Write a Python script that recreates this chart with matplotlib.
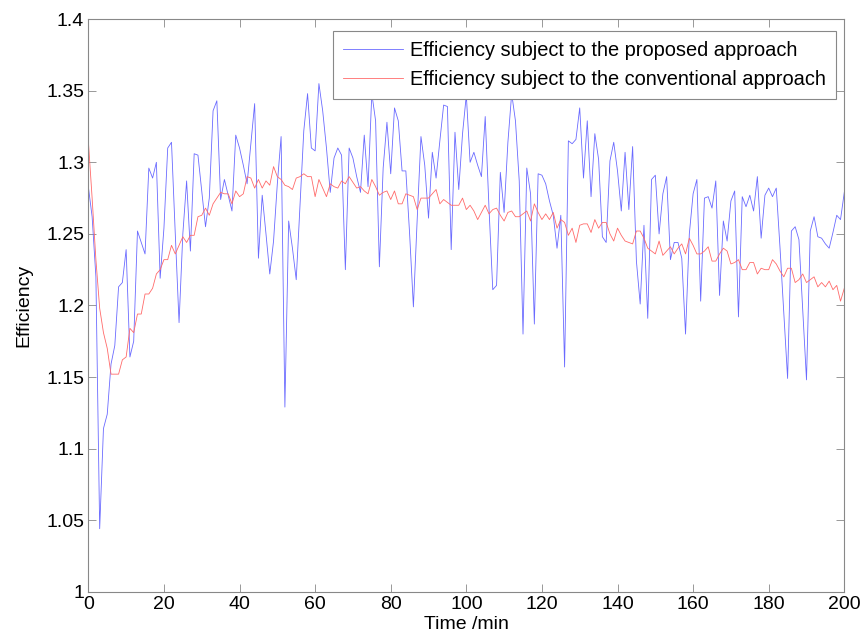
import numpy as np
import matplotlib
matplotlib.use("Agg")
import matplotlib.pyplot as plt

# efficiency, one point per minute (0..200)
t = np.arange(0, 201)

eff_proposed = [
    1.283, 1.262, 1.220, 1.044, 1.114, 1.124, 1.159, 1.172, 1.213, 1.216,
    1.239, 1.164, 1.175, 1.252, 1.244, 1.236, 1.296, 1.289, 1.300, 1.219,
    1.254, 1.310, 1.314, 1.250, 1.188, 1.250, 1.287, 1.238, 1.306, 1.305,
    1.280, 1.255, 1.275, 1.336, 1.343, 1.274, 1.288, 1.277, 1.266, 1.319,
    1.310, 1.298, 1.285, 1.313, 1.341, 1.233, 1.277, 1.250, 1.222, 1.245,
    1.285, 1.318, 1.129, 1.259, 1.240, 1.218, 1.270, 1.322, 1.348, 1.310,
    1.308, 1.355, 1.336, 1.310, 1.279, 1.303, 1.310, 1.305, 1.225, 1.310,
    1.303, 1.290, 1.279, 1.319, 1.283, 1.348, 1.329, 1.227, 1.296, 1.328,
    1.292, 1.338, 1.329, 1.294, 1.294, 1.250, 1.199, 1.260, 1.318, 1.298,
    1.261, 1.307, 1.289, 1.315, 1.340, 1.339, 1.239, 1.321, 1.281, 1.320,
    1.347, 1.300, 1.307, 1.298, 1.290, 1.332, 1.268, 1.211, 1.214, 1.293,
    1.265, 1.314, 1.348, 1.329, 1.287, 1.180, 1.296, 1.278, 1.187, 1.292,
    1.291, 1.285, 1.273, 1.263, 1.240, 1.263, 1.157, 1.315, 1.313, 1.316,
    1.338, 1.289, 1.329, 1.276, 1.320, 1.302, 1.248, 1.244, 1.301, 1.314,
    1.294, 1.266, 1.307, 1.267, 1.311, 1.231, 1.201, 1.256, 1.191, 1.288,
    1.291, 1.250, 1.278, 1.290, 1.232, 1.244, 1.244, 1.233, 1.180, 1.250,
    1.278, 1.288, 1.203, 1.275, 1.276, 1.268, 1.287, 1.207, 1.259, 1.245,
    1.273, 1.280, 1.192, 1.276, 1.269, 1.277, 1.266, 1.290, 1.247, 1.277,
    1.282, 1.276, 1.282, 1.240, 1.195, 1.149, 1.252, 1.255, 1.246, 1.197,
    1.148, 1.252, 1.262, 1.248, 1.247, 1.243, 1.240, 1.251, 1.263, 1.260,
    1.279,
]

eff_conventional = [
    1.315, 1.275, 1.232, 1.198, 1.181, 1.170, 1.152, 1.152, 1.152, 1.162,
    1.164, 1.184, 1.181, 1.194, 1.194, 1.208, 1.208, 1.212, 1.222, 1.225,
    1.232, 1.232, 1.242, 1.236, 1.242, 1.248, 1.244, 1.249, 1.249, 1.262,
    1.263, 1.268, 1.263, 1.271, 1.275, 1.279, 1.278, 1.278, 1.271, 1.280,
    1.276, 1.278, 1.290, 1.289, 1.282, 1.288, 1.282, 1.287, 1.284, 1.297,
    1.290, 1.288, 1.284, 1.283, 1.281, 1.289, 1.290, 1.292, 1.290, 1.290,
    1.276, 1.288, 1.282, 1.276, 1.285, 1.283, 1.282, 1.287, 1.285, 1.290,
    1.286, 1.282, 1.283, 1.280, 1.278, 1.288, 1.283, 1.277, 1.279, 1.280,
    1.274, 1.280, 1.271, 1.271, 1.278, 1.277, 1.276, 1.267, 1.275, 1.275,
    1.275, 1.278, 1.281, 1.271, 1.274, 1.272, 1.270, 1.270, 1.270, 1.275,
    1.267, 1.270, 1.266, 1.260, 1.265, 1.270, 1.264, 1.267, 1.268, 1.263,
    1.259, 1.265, 1.266, 1.262, 1.262, 1.264, 1.266, 1.259, 1.271, 1.265,
    1.260, 1.264, 1.260, 1.265, 1.254, 1.260, 1.258, 1.249, 1.254, 1.244,
    1.256, 1.257, 1.257, 1.251, 1.260, 1.254, 1.258, 1.258, 1.250, 1.245,
    1.254, 1.249, 1.245, 1.244, 1.243, 1.252, 1.252, 1.247, 1.240, 1.238,
    1.236, 1.245, 1.235, 1.238, 1.241, 1.236, 1.240, 1.243, 1.236, 1.247,
    1.242, 1.236, 1.236, 1.238, 1.241, 1.231, 1.231, 1.236, 1.240, 1.238,
    1.229, 1.230, 1.232, 1.225, 1.225, 1.230, 1.230, 1.222, 1.226, 1.225,
    1.225, 1.232, 1.229, 1.224, 1.220, 1.226, 1.226, 1.216, 1.218, 1.222,
    1.216, 1.218, 1.220, 1.213, 1.216, 1.213, 1.217, 1.211, 1.214, 1.203,
    1.212,
]

x_ticks = [0, 20, 40, 60, 80, 100, 120, 140, 160, 180, 200]
y_ticks = [1, 1.05, 1.1, 1.15, 1.2, 1.25, 1.3, 1.35, 1.4]
y_labels = ["1", "1.05", "1.1", "1.15", "1.2", "1.25", "1.3", "1.35", "1.4"]

plt.rcParams["font.family"] = ["Liberation Sans", "DejaVu Sans"]
plt.rcParams["font.size"] = 14

fig = plt.figure(figsize=(8.61, 6.44), dpi=100)
ax = fig.add_axes([0.1026, 0.0812, 0.878, 0.889])

ax.plot(t, eff_proposed, color="#6a6aff", lw=0.6,
        label="Efficiency subject to the proposed approach")
ax.plot(t, eff_conventional, color="#ff6a6a", lw=0.6,
        label="Efficiency subject to the conventional approach")

ax.set_xlim(0, 200)
ax.set_ylim(1, 1.4)
ax.set_xticks(x_ticks)
ax.set_yticks(y_ticks)
ax.set_yticklabels(y_labels)
ax.tick_params(direction="in", length=6, width=0.6, color="#888888",
               top=True, right=True, labelsize=14, pad=3)
for s in ax.spines.values():
    s.set_color("#888888")
    s.set_linewidth(0.8)

ax.set_xlabel("Time /min", fontsize=14, labelpad=2)
ax.set_ylabel("Efficiency", fontsize=14, labelpad=10)

leg = ax.legend(loc="upper right", bbox_to_anchor=(0.989, 0.979),
                borderaxespad=0, fancybox=False, framealpha=1,
                edgecolor="#888888", fontsize=14.4, handlelength=3.0,
                handletextpad=0.35, borderpad=0.5, labelspacing=0.5)
leg.get_frame().set_linewidth(0.8)

fig.savefig("out.png", dpi=100)
